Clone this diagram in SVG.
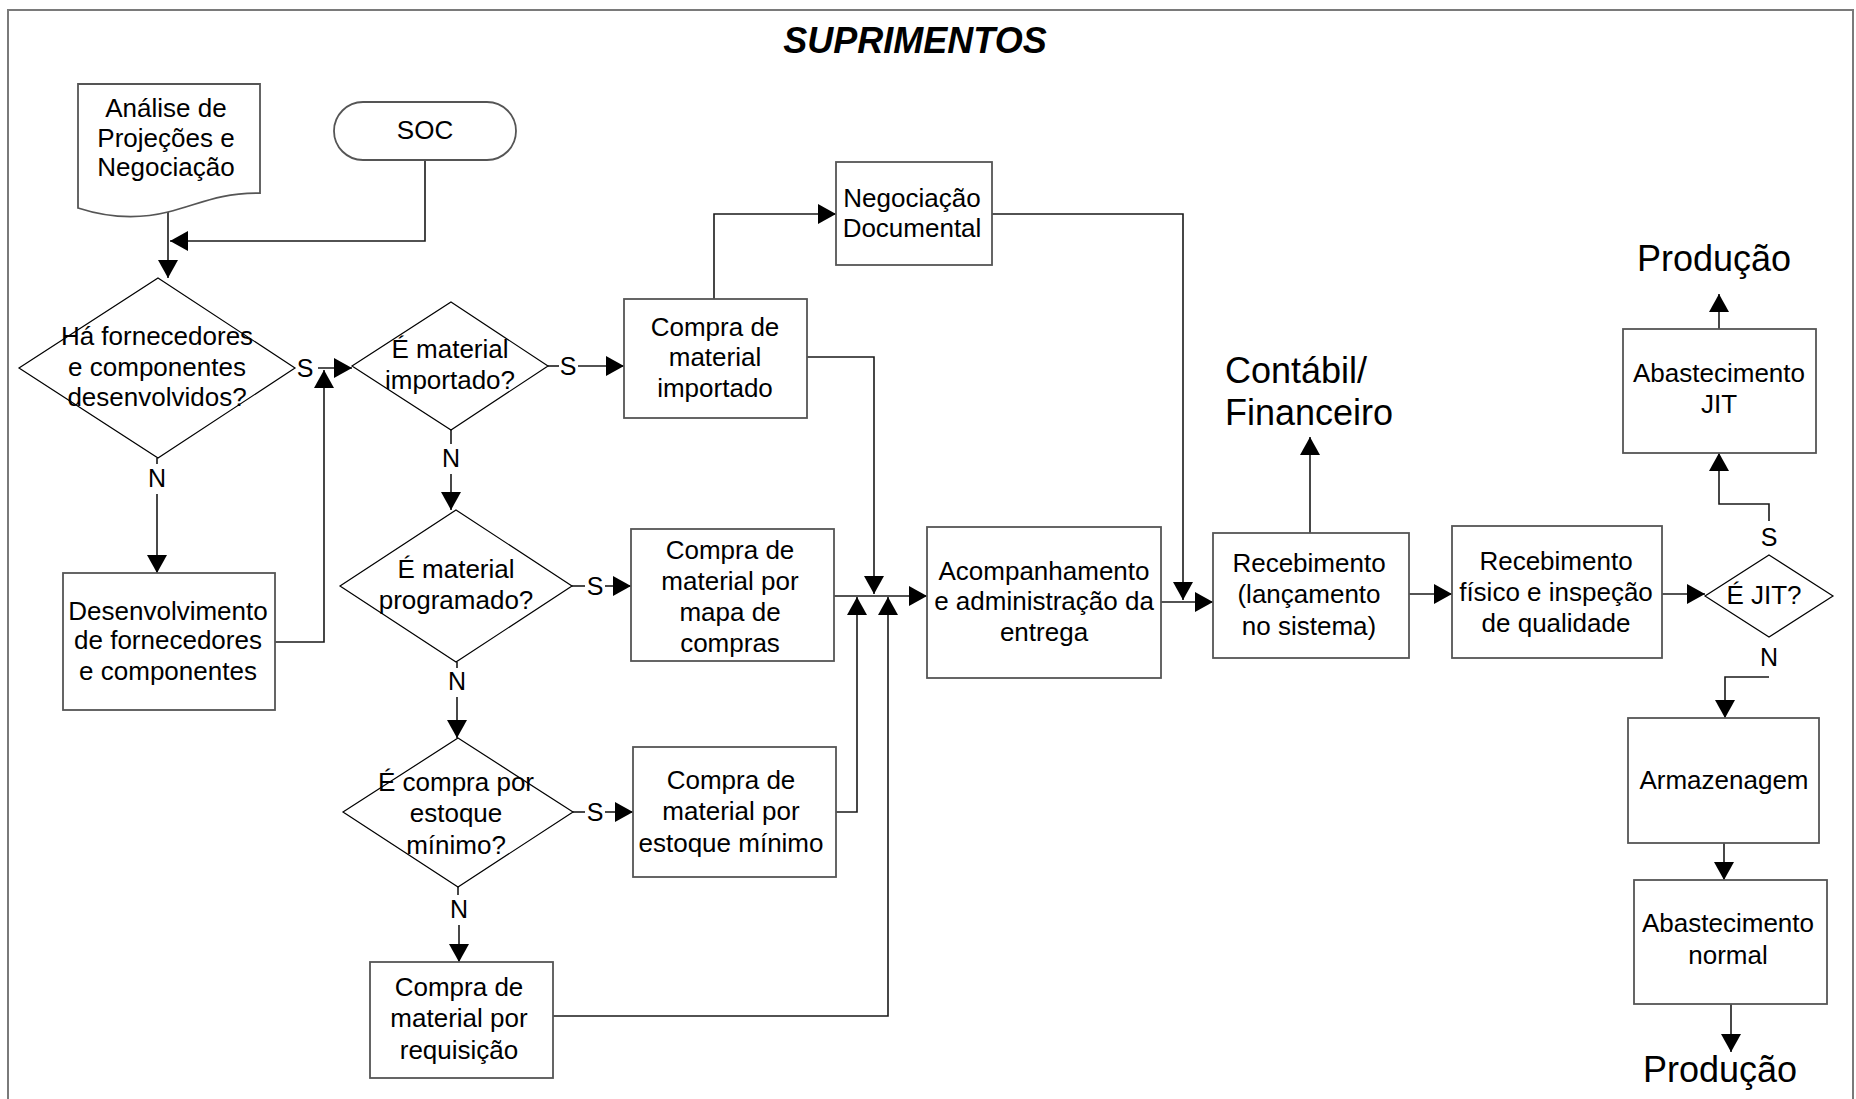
<svg xmlns="http://www.w3.org/2000/svg" width="1856" height="1099" viewBox="0 0 1856 1099">
  <style>
    .frame { fill: none; stroke: #7a7a7a; stroke-width: 2; }
    .box { fill: #ffffff; stroke: #555555; stroke-width: 1.8; }
    .dec { fill: #ffffff; stroke: #000000; stroke-width: 1.2; }
    .wire { fill: none; stroke: #1a1a1a; stroke-width: 1.6; }
    .arr { fill: none; stroke: #1a1a1a; stroke-width: 1.6; marker-end: url(#head); }
    text { font-family: "Liberation Sans", Arial, sans-serif; fill: #000000; }
    .t { font-size: 26px; text-anchor: middle; }
    .lbl { font-size: 25px; text-anchor: middle; }
    .big { font-size: 36px; }
    .title { font-size: 36px; font-weight: bold; font-style: italic; text-anchor: middle; }
  </style>
  <defs>
    <marker id="head" markerUnits="userSpaceOnUse" markerWidth="19" markerHeight="20" refX="18" refY="10" orient="auto">
      <path d="M0,0 L18,10 L0,20 z" fill="#000000"/>
    </marker>
  </defs>

  <!-- page frame and title -->
  <rect class="frame" x="8" y="10" width="1845" height="1110"/>
  <text class="title" x="915" y="53">SUPRIMENTOS</text>

  <!-- connectors -->
  <g id="connectors">
    <polyline class="arr" points="425,160 425,241 170,241"/>
    <line class="arr" x1="168" y1="212" x2="168" y2="278"/>
    <line class="arr" x1="318" y1="368" x2="352" y2="368"/>
    <polyline class="arr" points="275,642 324,642 324,370"/>
    <line class="wire" x1="157" y1="458" x2="157" y2="464"/>
    <line class="arr" x1="157" y1="494" x2="157" y2="573"/>
    <line class="wire" x1="548" y1="366" x2="559" y2="366"/>
    <line class="arr" x1="578" y1="366" x2="624" y2="366"/>
    <line class="wire" x1="451" y1="430" x2="451" y2="444"/>
    <line class="arr" x1="451" y1="474" x2="451" y2="510"/>
    <line class="wire" x1="572" y1="586" x2="585" y2="586"/>
    <line class="arr" x1="605" y1="586" x2="631" y2="586"/>
    <line class="wire" x1="457" y1="662" x2="457" y2="668"/>
    <line class="arr" x1="457" y1="697" x2="457" y2="738"/>
    <line class="wire" x1="573" y1="812" x2="585" y2="812"/>
    <line class="arr" x1="605" y1="812" x2="633" y2="812"/>
    <line class="wire" x1="458" y1="887" x2="458" y2="895"/>
    <line class="arr" x1="459" y1="925" x2="459" y2="962"/>
    <polyline class="arr" points="807,357 874,357 874,594"/>
    <polyline class="arr" points="714,299 714,214 836,214"/>
    <polyline class="arr" points="992,214 1183,214 1183,600"/>
    <line class="arr" x1="834" y1="596" x2="927" y2="596"/>
    <polyline class="arr" points="836,812 857,812 857,597"/>
    <polyline class="arr" points="553,1016 888,1016 888,597"/>
    <line class="arr" x1="1161" y1="602" x2="1213" y2="602"/>
    <line class="arr" x1="1310" y1="533" x2="1310" y2="437"/>
    <line class="arr" x1="1409" y1="594" x2="1452" y2="594"/>
    <line class="arr" x1="1662" y1="594" x2="1705" y2="594"/>
    <polyline class="arr" points="1769,521 1769,504 1719,504 1719,453"/>
    <line class="arr" x1="1719" y1="329" x2="1719" y2="294"/>
    <polyline class="arr" points="1769,677 1725,677 1725,718"/>
    <line class="arr" x1="1724" y1="843" x2="1724" y2="880"/>
    <line class="arr" x1="1731" y1="1004" x2="1731" y2="1052"/>
  </g>

  <!-- branch labels -->
  <g id="branch-labels">
    <text class="lbl" x="305" y="377">S</text>
    <text class="lbl" x="157" y="487">N</text>
    <text class="lbl" x="568" y="375">S</text>
    <text class="lbl" x="451" y="467">N</text>
    <text class="lbl" x="595" y="595">S</text>
    <text class="lbl" x="457" y="690">N</text>
    <text class="lbl" x="595" y="821">S</text>
    <text class="lbl" x="459" y="918">N</text>
    <text class="lbl" x="1769" y="546">S</text>
    <text class="lbl" x="1769" y="666">N</text>
  </g>

  <g id="analise">
    <path class="box" d="M78,84 H260 V193 C218,193 200,204 168,212 C140,219 112,219 78,208 Z"/>
    <text class="t" x="166" y="117">Análise de</text>
    <text class="t" x="166" y="147">Projeções e</text>
    <text class="t" x="166" y="176">Negociação</text>
  </g>

  <g id="soc">
    <rect class="box" x="334" y="102" width="182" height="58" rx="29" ry="29"/>
    <text class="t" x="425" y="139">SOC</text>
  </g>

  <g id="dec-fornecedores">
    <polygon class="dec" points="158,278 295,368 158,458 19,368"/>
    <text class="t" x="157" y="345">Há fornecedores</text>
    <text class="t" x="157" y="376">e componentes</text>
    <text class="t" x="157" y="406">desenvolvidos?</text>
  </g>

  <g id="desenvolvimento">
    <rect class="box" x="63" y="573" width="212" height="137"/>
    <text class="t" x="168" y="620">Desenvolvimento</text>
    <text class="t" x="168" y="649">de fornecedores</text>
    <text class="t" x="168" y="680">e componentes</text>
  </g>

  <g id="dec-importado">
    <polygon class="dec" points="451,302 548,366 451,430 352,366"/>
    <text class="t" x="450" y="358">É material</text>
    <text class="t" x="450" y="389">importado?</text>
  </g>

  <g id="compra-importado">
    <rect class="box" x="624" y="299" width="183" height="119"/>
    <text class="t" x="715" y="336">Compra de</text>
    <text class="t" x="715" y="366">material</text>
    <text class="t" x="715" y="397">importado</text>
  </g>

  <g id="negociacao">
    <rect class="box" x="836" y="162" width="156" height="103"/>
    <text class="t" x="912" y="207">Negociação</text>
    <text class="t" x="912" y="237">Documental</text>
  </g>

  <g id="dec-programado">
    <polygon class="dec" points="456,510 572,586 456,662 340,586"/>
    <text class="t" x="456" y="578">É material</text>
    <text class="t" x="456" y="609">programado?</text>
  </g>

  <g id="compra-mapa">
    <rect class="box" x="631" y="529" width="203" height="132"/>
    <text class="t" x="730" y="559">Compra de</text>
    <text class="t" x="730" y="590">material por</text>
    <text class="t" x="730" y="621">mapa de</text>
    <text class="t" x="730" y="652">compras</text>
  </g>

  <g id="dec-estoque">
    <polygon class="dec" points="458,738 573,812 458,887 343,812"/>
    <text class="t" x="456" y="791">É compra por</text>
    <text class="t" x="456" y="822">estoque</text>
    <text class="t" x="456" y="854">mínimo?</text>
  </g>

  <g id="compra-estoque">
    <rect class="box" x="633" y="747" width="203" height="130"/>
    <text class="t" x="731" y="789">Compra de</text>
    <text class="t" x="731" y="820">material por</text>
    <text class="t" x="731" y="852">estoque mínimo</text>
  </g>

  <g id="compra-requisicao">
    <rect class="box" x="370" y="962" width="183" height="116"/>
    <text class="t" x="459" y="996">Compra de</text>
    <text class="t" x="459" y="1027">material por</text>
    <text class="t" x="459" y="1059">requisição</text>
  </g>

  <g id="acompanhamento">
    <rect class="box" x="927" y="527" width="234" height="151"/>
    <text class="t" x="1044" y="580">Acompanhamento</text>
    <text class="t" x="1044" y="610">e administração da</text>
    <text class="t" x="1044" y="641">entrega</text>
  </g>

  <g id="recebimento">
    <rect class="box" x="1213" y="533" width="196" height="125"/>
    <text class="t" x="1309" y="572">Recebimento</text>
    <text class="t" x="1309" y="603">(lançamento</text>
    <text class="t" x="1309" y="635">no sistema)</text>
  </g>

  <g id="contabil">
    <text class="big" x="1225" y="383">Contábil/</text>
    <text class="big" x="1225" y="425">Financeiro</text>
  </g>

  <g id="recebimento-fisico">
    <rect class="box" x="1452" y="526" width="210" height="132"/>
    <text class="t" x="1556" y="570">Recebimento</text>
    <text class="t" x="1556" y="601">físico e inspeção</text>
    <text class="t" x="1556" y="632">de qualidade</text>
  </g>

  <g id="dec-jit">
    <polygon class="dec" points="1769,555 1833,596 1769,637 1705,596"/>
    <text class="t" x="1764" y="604">É JIT?</text>
  </g>

  <g id="abastecimento-jit">
    <rect class="box" x="1623" y="329" width="193" height="124"/>
    <text class="t" x="1719" y="382">Abastecimento</text>
    <text class="t" x="1719" y="413">JIT</text>
  </g>

  <g id="producao-jit">
    <text class="big" x="1714" y="271" text-anchor="middle">Produção</text>
  </g>

  <g id="armazenagem">
    <rect class="box" x="1628" y="718" width="191" height="125"/>
    <text class="t" x="1724" y="789">Armazenagem</text>
  </g>

  <g id="abastecimento-normal">
    <rect class="box" x="1634" y="880" width="193" height="124"/>
    <text class="t" x="1728" y="932">Abastecimento</text>
    <text class="t" x="1728" y="964">normal</text>
  </g>

  <g id="producao-normal">
    <text class="big" x="1720" y="1082" text-anchor="middle">Produção</text>
  </g>
</svg>
